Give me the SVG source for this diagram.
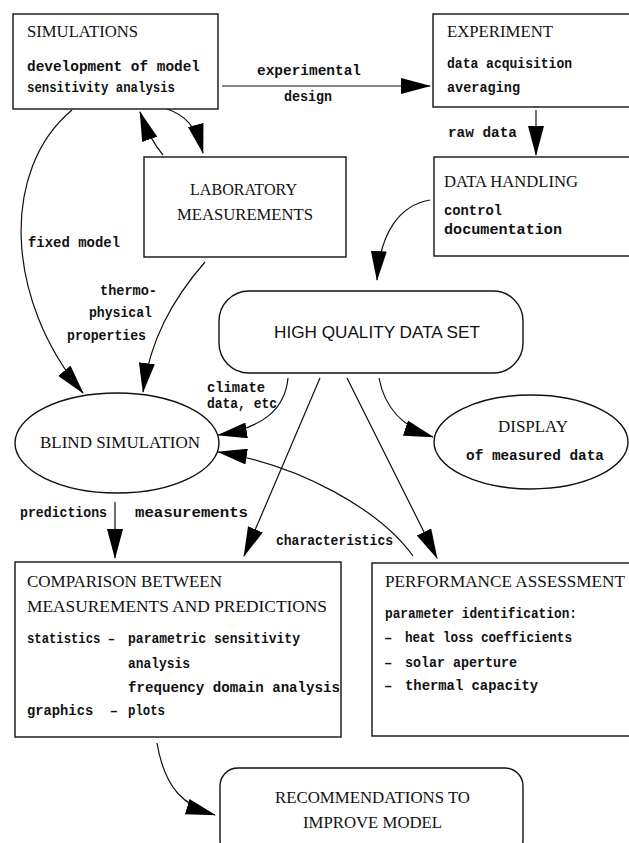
<svg xmlns="http://www.w3.org/2000/svg" width="629" height="843" viewBox="0 0 629 843">
<defs>
<marker id="ah" markerUnits="userSpaceOnUse" markerWidth="30" markerHeight="16" viewBox="0 0 30 16" refX="29" refY="8" orient="auto">
<path d="M0,0 L30,8 L0,16 Z" fill="#000"/>
</marker>
<style>
.box{fill:#fff;stroke:#111;stroke-width:1.4}
.ln{fill:none;stroke:#111;stroke-width:1.2}
.ar{fill:none;stroke:#111;stroke-width:1.2;marker-end:url(#ah)}
.ti{font-family:"Liberation Serif","Times New Roman",serif;font-size:16px;fill:#111}
.tw{font-family:"Liberation Mono","Courier New",monospace;font-weight:bold;font-size:14px;fill:#111}
.sa{font-family:"Liberation Sans",Arial,sans-serif;font-size:17px;fill:#111}
</style>
</defs>
<rect width="629" height="843" fill="#fff"/>

<g id="connectors">
<path class="ar" d="M222,86 L430,86"/>
<path class="ar" d="M536,110 L536,155"/>
<path class="ar" d="M430,200 C400,205 380,232 377,280"/>
<path class="ar" d="M163,155 Q150,140 140,112"/>
<path class="ar" d="M167,109 C185,115 196,126 203,153"/>
<path class="ar" d="M72,110 C0,170 5,300 83,393"/>
<path class="ar" d="M205,262 C172,300 150,340 143,392"/>
<path class="ar" d="M288,378 C285,410 262,428 218,435"/>
<path class="ar" d="M413,556 C380,510 300,465 218,452"/>
<path class="ar" d="M320,378 L244,556"/>
<path class="ar" d="M347,378 L437,558"/>
<path class="ar" d="M379,378 C385,410 405,428 433,437"/>
<path class="ar" d="M115,502 L115,558"/>
<path class="ar" d="M157,743 C165,790 185,806 215,815"/>
</g>

<g id="connector-labels">
<text class="tw" x="257" y="75" textLength="104" lengthAdjust="spacingAndGlyphs">experimental</text>
<text class="tw" x="284" y="101" textLength="48" lengthAdjust="spacingAndGlyphs">design</text>
<text class="tw" x="448" y="137" textLength="69" lengthAdjust="spacingAndGlyphs">raw data</text>
<text class="tw" x="28" y="247" textLength="92" lengthAdjust="spacingAndGlyphs">fixed model</text>
<text class="tw" x="100" y="295" textLength="57" lengthAdjust="spacingAndGlyphs">thermo-</text>
<text class="tw" x="89" y="317" textLength="63" lengthAdjust="spacingAndGlyphs">physical</text>
<text class="tw" x="67" y="340" textLength="79" lengthAdjust="spacingAndGlyphs">properties</text>
<text class="tw" x="207" y="392" textLength="58" lengthAdjust="spacingAndGlyphs">climate</text>
<text class="tw" x="207" y="408" textLength="70" lengthAdjust="spacingAndGlyphs">data, etc</text>
<text class="tw" x="20" y="517" textLength="87" lengthAdjust="spacingAndGlyphs">predictions</text>
<text class="tw" x="135" y="517" textLength="113" lengthAdjust="spacingAndGlyphs">measurements</text>
<text class="tw" x="276" y="545" textLength="117" lengthAdjust="spacingAndGlyphs">characteristics</text>
</g>

<g id="simulations">
<rect class="box" x="13" y="14" width="205" height="95"/>
<text class="ti" x="27" y="37" textLength="111" lengthAdjust="spacingAndGlyphs">SIMULATIONS</text>
<text class="tw" x="27" y="71" textLength="173" lengthAdjust="spacingAndGlyphs">development of model</text>
<text class="tw" x="27" y="92" textLength="148" lengthAdjust="spacingAndGlyphs">sensitivity analysis</text>
</g>

<g id="experiment">
<rect class="box" x="433" y="14" width="210" height="93"/>
<text class="ti" x="447" y="37" textLength="106" lengthAdjust="spacingAndGlyphs">EXPERIMENT</text>
<text class="tw" x="447" y="68" textLength="125" lengthAdjust="spacingAndGlyphs">data acquisition</text>
<text class="tw" x="447" y="92" textLength="73" lengthAdjust="spacingAndGlyphs">averaging</text>
</g>

<g id="data-handling">
<rect class="box" x="434" y="157" width="210" height="99"/>
<text class="ti" x="444" y="187" textLength="134" lengthAdjust="spacingAndGlyphs">DATA HANDLING</text>
<text class="tw" x="444" y="215" textLength="58" lengthAdjust="spacingAndGlyphs">control</text>
<text class="tw" x="444" y="234" textLength="118" lengthAdjust="spacingAndGlyphs">documentation</text>
</g>

<g id="laboratory">
<rect class="box" x="144" y="157" width="202" height="100"/>
<text class="ti" x="190" y="195" textLength="107" lengthAdjust="spacingAndGlyphs">LABORATORY</text>
<text class="ti" x="177" y="220" textLength="136" lengthAdjust="spacingAndGlyphs">MEASUREMENTS</text>
</g>

<g id="data-set">
<rect class="box" x="219" y="291" width="304" height="82" rx="30" ry="30"/>
<text class="sa" x="274" y="338" textLength="206" lengthAdjust="spacingAndGlyphs">HIGH QUALITY DATA SET</text>
</g>

<g id="blind-simulation">
<ellipse class="box" cx="117" cy="443" rx="102" ry="50"/>
<text class="ti" x="40" y="448" textLength="160" lengthAdjust="spacingAndGlyphs">BLIND SIMULATION</text>
</g>

<g id="display">
<ellipse class="box" cx="531" cy="442" rx="97" ry="47"/>
<text class="ti" x="498" y="432" textLength="70" lengthAdjust="spacingAndGlyphs">DISPLAY</text>
<text class="tw" x="466" y="460" textLength="138" lengthAdjust="spacingAndGlyphs">of measured data</text>
</g>

<g id="comparison">
<rect class="box" x="15" y="562" width="326" height="175"/>
<text class="ti" x="27" y="587" textLength="195" lengthAdjust="spacingAndGlyphs">COMPARISON BETWEEN</text>
<text class="ti" x="27" y="612" textLength="300" lengthAdjust="spacingAndGlyphs">MEASUREMENTS AND PREDICTIONS</text>
<text class="tw" x="27" y="643" textLength="88" lengthAdjust="spacingAndGlyphs">statistics –</text>
<text class="tw" x="128" y="643" textLength="172" lengthAdjust="spacingAndGlyphs">parametric sensitivity</text>
<text class="tw" x="128" y="668" textLength="62" lengthAdjust="spacingAndGlyphs">analysis</text>
<text class="tw" x="128" y="692" textLength="212" lengthAdjust="spacingAndGlyphs">frequency domain analysis</text>
<text class="tw" x="27" y="715" textLength="91" lengthAdjust="spacingAndGlyphs">graphics&#160; –</text>
<text class="tw" x="128" y="715" textLength="37" lengthAdjust="spacingAndGlyphs">plots</text>
</g>

<g id="performance">
<rect class="box" x="372" y="563" width="270" height="173"/>
<text class="ti" x="385" y="587" textLength="240" lengthAdjust="spacingAndGlyphs">PERFORMANCE ASSESSMENT</text>
<text class="tw" x="385" y="618" textLength="192" lengthAdjust="spacingAndGlyphs">parameter identification:</text>
<text class="tw" x="384" y="642">–</text>
<text class="tw" x="405" y="642" textLength="167" lengthAdjust="spacingAndGlyphs">heat loss coefficients</text>
<text class="tw" x="384" y="667">–</text>
<text class="tw" x="405" y="667" textLength="112" lengthAdjust="spacingAndGlyphs">solar aperture</text>
<text class="tw" x="384" y="690">–</text>
<text class="tw" x="405" y="690" textLength="133" lengthAdjust="spacingAndGlyphs">thermal capacity</text>
</g>

<g id="recommendations">
<rect class="box" x="220" y="768" width="303" height="90" rx="18" ry="18"/>
<text class="ti" x="275" y="803" textLength="195" lengthAdjust="spacingAndGlyphs">RECOMMENDATIONS TO</text>
<text class="ti" x="303" y="828" textLength="139" lengthAdjust="spacingAndGlyphs">IMPROVE MODEL</text>
</g>
</svg>
